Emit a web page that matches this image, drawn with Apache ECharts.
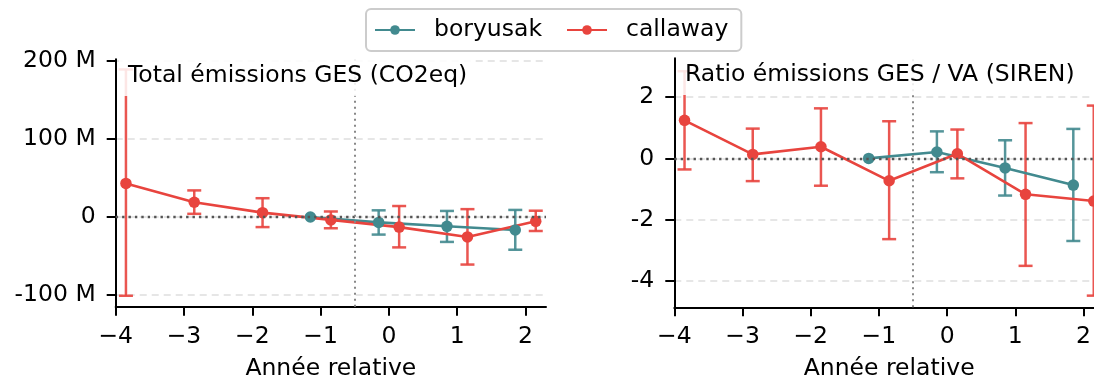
<!DOCTYPE html>
<html>
<head>
<meta charset="utf-8">
<script src="https://cdn.jsdelivr.net/npm/echarts@6/dist/echarts.min.js"></script>
<style>
html, body { margin: 0; padding: 0; background: #fff; }
#chart { width: 1094px; height: 382px; }
</style>
</head>
<body>
<div id="chart"></div>
<script>
// années relatives
var yearsCall = [-4, -3, -2, -1, 0, 1, 2];
var yearsBory = [-1, 0, 1, 2];
var xTicks = [-4, -3, -2, -1, 0, 1, 2];

// Total émissions GES (en millions)
var totBory = [0, -7, -12, -16.7];
var totBoryLo = [null, -22.6, -32, -42];
var totBoryHi = [null, 8.5, 7.7, 9];
var totCall = [43, 18.8, 5.5, -3.8, -13, -25.6, -5.6];
var totCallLo = [-101, 4, -13, -14.5, -39, -61, -18];
var totCallHi = [189, 34, 24, 7, 14, 10, 8];
var totTicks = [-100, 0, 100, 200];

// Ratio émissions GES / VA
var ratBory = [0, 0.21, -0.31, -0.87];
var ratBoryLo = [null, -0.45, -1.21, -2.69];
var ratBoryHi = [null, 0.88, 0.59, 0.96];
var ratCall = [1.24, 0.13, 0.38, -0.73, 0.15, -1.17, -1.39];
var ratCallLo = [-0.36, -0.74, -0.89, -2.63, -0.65, -3.5, -4.47];
var ratCallHi = [2.84, 0.97, 1.63, 1.21, 0.94, 1.15, 1.72];
var ratTicks = [-4, -2, 0, 2];

var TEAL = '#428a8f';
var RED = '#e8443e';
var FONT = 'DejaVu Sans';
var FS = 23.5;
var DODGE = 0.15;

function pts(years, vals, shift) {
    return years.map(function (y, i) { return [y + shift, vals[i]]; });
}
function bars(years, lo, hi, shift) {
    var out = [];
    years.forEach(function (y, i) {
        if (lo[i] != null) out.push([y + shift, lo[i], hi[i]]);
    });
    return out;
}

function errRender(color) {
    return function (params, api) {
        var a = api.coord([api.value(0), api.value(1)]);
        var b = api.coord([api.value(0), api.value(2)]);
        var w = 7;
        var st = { stroke: color, lineWidth: 2.5, opacity: 0.9 };
        return {
            type: 'group',
            children: [
                { type: 'line', shape: { x1: a[0], y1: a[1], x2: b[0], y2: b[1] }, style: st },
                { type: 'line', shape: { x1: a[0] - w, y1: a[1], x2: a[0] + w, y2: a[1] }, style: st },
                { type: 'line', shape: { x1: b[0] - w, y1: b[1], x2: b[0] + w, y2: b[1] }, style: st }
            ]
        };
    };
}

function xAxis(idx) {
    return {
        type: 'value', gridIndex: idx, min: -4, max: 2.3,
        name: 'Année relative', nameLocation: 'middle', nameGap: 50,
        nameTextStyle: { fontFamily: FONT, fontSize: FS, color: '#000' },
        axisLine: { onZero: false, lineStyle: { color: '#000', width: 2 } },
        axisTick: { length: 9, lineStyle: { color: '#000', width: 2 }, customValues: xTicks },
        axisLabel: {
            customValues: xTicks, margin: 18, fontFamily: FONT, fontSize: FS, color: '#000',
            formatter: function (v) { return String(v).replace('-', '\u2212'); }
        },
        splitLine: { show: false }
    };
}

function yAxis(idx, min, max, ticks, fmt) {
    return {
        type: 'value', gridIndex: idx, min: min, max: max,
        axisLine: { show: true, onZero: false, lineStyle: { color: '#000', width: 2 } },
        axisTick: { show: true, length: 9, lineStyle: { color: '#000', width: 2 }, customValues: ticks },
        axisLabel: { customValues: ticks, margin: 20, fontFamily: FONT, fontSize: FS, color: '#000', formatter: fmt },
        splitLine: { show: true, lineStyle: { color: '#e6e6e6', width: 1.8, type: [7, 5] } }
    };
}

function refLines() {
    return {
        silent: true, symbol: 'none', label: { show: false },
        data: [
            { yAxis: 0, lineStyle: { color: '#555', width: 2.4, type: [2.4, 4] } },
            { xAxis: -0.5, lineStyle: { color: '#888', width: 2, type: [2, 4] } }
        ]
    };
}

function lineSeries(name, idx, data, color, marks) {
    var s = {
        name: name, type: 'line', xAxisIndex: idx, yAxisIndex: idx, data: data,
        symbol: 'circle', symbolSize: 11.5, z: 4,
        lineStyle: { color: color, width: 2.6 }, itemStyle: { color: color },
        animation: false
    };
    if (marks) s.markLine = refLines();
    return s;
}

function errSeries(name, idx, data, color) {
    return {
        name: name, type: 'custom', xAxisIndex: idx, yAxisIndex: idx, data: data,
        renderItem: errRender(color), z: 3, animation: false, silent: true
    };
}

var chart = echarts.init(document.getElementById('chart'), null, { renderer: 'canvas' });

var titleText = { fontFamily: FONT, fontSize: FS, lineHeight: 28, fontWeight: 'normal', color: '#000' };

var option = {
    backgroundColor: '#fff',
    animation: false,
    legend: {
        data: ['boryusak', 'callaway'],
        left: 366, top: 9,
        itemWidth: 40, itemHeight: 12, itemGap: 24,
        padding: [7, 13, 7, 8],
        borderColor: '#cccccc', borderWidth: 2, borderRadius: 5,
        textStyle: { fontFamily: FONT, fontSize: FS, lineHeight: 28, color: '#000', padding: [0, 0, 0, 14] }
    },
    title: [
        {
            text: 'Total émissions GES (CO2eq)', left: 119, top: 57,
            padding: [5, 6, 6, 9], backgroundColor: 'rgba(255,255,255,0.85)',
            textStyle: titleText
        },
        {
            text: 'Ratio émissions GES / VA (SIREN)', left: 677, top: 56,
            padding: [5, 4, 6, 8], backgroundColor: 'rgba(255,255,255,0.85)',
            textStyle: titleText
        }
    ],
    grid: [
        { left: 115.7, right: 548, top: 59.3, bottom: 75.3, outerBoundsMode: 'none' },
        { left: 674.3, right: -10, top: 58.3, bottom: 74.7, outerBoundsMode: 'none' }
    ],
    xAxis: [xAxis(0), xAxis(1)],
    yAxis: [
        yAxis(0, -115, 202, totTicks, function (v) { return v === 0 ? '0' : v + ' M'; }),
        yAxis(1, -4.85, 3.26, ratTicks, function (v) { return String(v); })
    ],
    series: [
        lineSeries('boryusak', 0, pts(yearsBory, totBory, -DODGE), TEAL, true),
        lineSeries('callaway', 0, pts(yearsCall, totCall, DODGE), RED, false),
        lineSeries('boryusak', 1, pts(yearsBory, ratBory, -DODGE), TEAL, true),
        lineSeries('callaway', 1, pts(yearsCall, ratCall, DODGE), RED, false),
        errSeries('boryusak', 0, bars(yearsBory, totBoryLo, totBoryHi, -DODGE), TEAL),
        errSeries('callaway', 0, bars(yearsCall, totCallLo, totCallHi, DODGE), RED),
        errSeries('boryusak', 1, bars(yearsBory, ratBoryLo, ratBoryHi, -DODGE), TEAL),
        errSeries('callaway', 1, bars(yearsCall, ratCallLo, ratCallHi, DODGE), RED)
    ]
};

chart.setOption(option);
</script>
</body>
</html>
